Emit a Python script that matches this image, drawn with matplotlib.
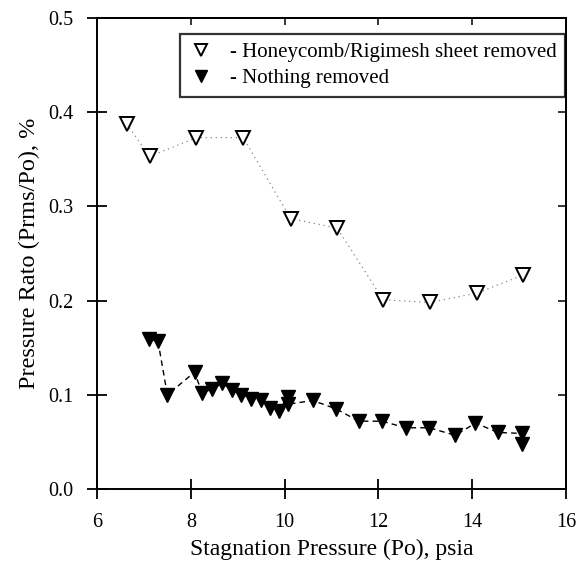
import matplotlib
matplotlib.use("Agg")
import matplotlib.pyplot as plt
from matplotlib.lines import Line2D

plt.rcParams['font.family'] = 'serif'
plt.rcParams['font.serif'] = ['Liberation Serif', 'DejaVu Serif']

# Honeycomb/Rigimesh sheet removed (open triangles)
x_open = [6.63, 7.12, 8.12, 9.12, 10.13, 11.12, 12.10, 13.09, 14.10, 15.08]
y_open = [0.388, 0.353, 0.373, 0.373, 0.287, 0.277, 0.201, 0.198, 0.208, 0.227]

# Nothing removed (filled triangles)
x_fill = [7.10, 7.30, 7.50, 8.08, 8.24, 8.45, 8.67, 8.88, 9.08, 9.28, 9.49, 9.69,
          9.87, 10.07, 10.08, 10.60, 11.10, 11.58, 12.08, 12.58, 13.08, 13.64,
          14.07, 14.55, 15.06, 15.07]
y_fill = [0.159, 0.157, 0.100, 0.124, 0.102, 0.106, 0.112, 0.105, 0.100, 0.096,
          0.094, 0.086, 0.083, 0.098, 0.090, 0.094, 0.085, 0.072, 0.072, 0.065,
          0.065, 0.057, 0.070, 0.060, 0.059, 0.048]

xticks = [6, 8, 10, 12, 14, 16]
yticks = [0.0, 0.1, 0.2, 0.3, 0.4, 0.5]
label_open = "- Honeycomb/Rigimesh sheet removed"
label_fill = "- Nothing removed"

fig = plt.figure(figsize=(5.85, 5.78), dpi=100)
ax = fig.add_axes([97/585, 1-489/578, (566-97)/585, (489-18)/578])

ax.plot(x_open, y_open, linestyle=(0, (1, 3)), color='#888888', linewidth=0.9, zorder=1)
ax.plot(x_open, y_open, linestyle='none', marker='v', markersize=10,
        markerfacecolor='white', markeredgecolor='black', markeredgewidth=1.4, zorder=3)

ax.plot(x_fill, y_fill, linestyle=(0, (4, 3)), color='black', linewidth=1.0, zorder=1)
ax.plot(x_fill, y_fill, linestyle='none', marker='v', markersize=10.5,
        markerfacecolor='black', markeredgecolor='black', zorder=3)

ax.set_xlim(6, 16)
ax.set_ylim(0, 0.5)
ax.set_xticks(xticks)
ax.set_xticklabels([str(t) for t in xticks])
ax.set_yticks(yticks)
ax.set_yticklabels([f"{t:.1f}" for t in yticks])

ax.tick_params(axis='both', which='major', labelsize=14.5, length=14, width=1.3,
               color='black', direction='inout', top=False, right=False)
ax.tick_params(axis='x', pad=10)
ax.tick_params(axis='y', pad=10)
sx = ax.secondary_xaxis('top')
sx.set_xticks(xticks[1:-1], labels=[])
sx.tick_params(direction='in', length=5, width=1.1)
sx.spines['top'].set_linewidth(1.4)
sy = ax.secondary_yaxis('right')
sy.set_yticks(yticks[1:-1], labels=[])
sy.tick_params(direction='in', length=6, width=1.1)
sy.spines['right'].set_linewidth(1.4)

for s in ax.spines.values():
    s.set_linewidth(1.4)

ax.set_xlabel("Stagnation Pressure (Po), psia", fontsize=17, labelpad=5)
ax.set_ylabel("Pressure Rato (Prms/Po), %", fontsize=17.5, labelpad=6)

h1 = Line2D([], [], linestyle='none', marker='v', markersize=9,
            markerfacecolor='white', markeredgecolor='black', markeredgewidth=1.4)
h2 = Line2D([], [], linestyle='none', marker='v', markersize=9,
            markerfacecolor='black', markeredgecolor='black')
leg = ax.legend([h1, h2], [label_open, label_fill], loc='upper right',
                bbox_to_anchor=(0.9975, 0.965), fontsize=15, frameon=True,
                fancybox=False, edgecolor='black', handlelength=1.2,
                handletextpad=0.8, borderpad=0.4, labelspacing=0.3,
                borderaxespad=0)
leg.get_frame().set_linewidth(1.6)

fig.savefig("out.png", dpi=100)
